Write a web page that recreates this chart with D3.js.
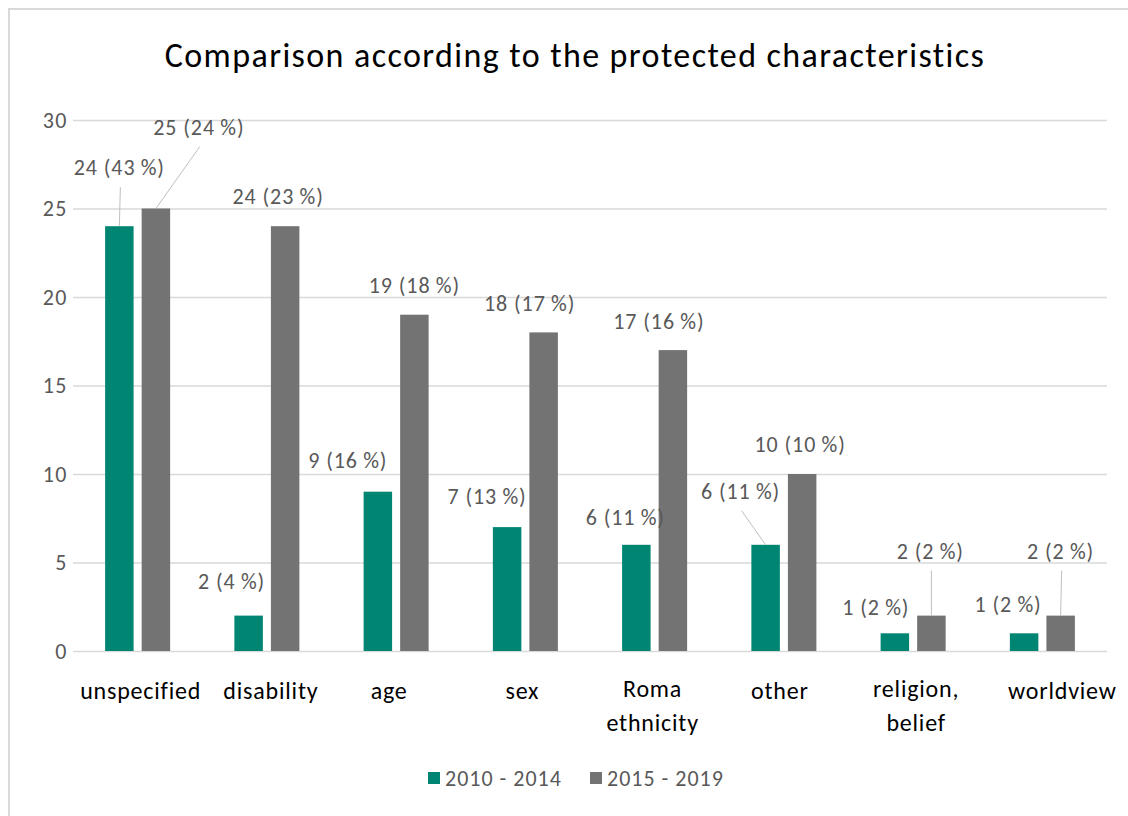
<!DOCTYPE html>
<html>
<head>
<meta charset="utf-8">
<script src="https://cdn.jsdelivr.net/npm/d3@7"></script>
<style>
  html, body { margin: 0; padding: 0; background: #fff; }
  svg { display: block; font-family: Calibri, Carlito, Lato, sans-serif; }
</style>
</head>
<body>
<svg id="chart" width="1128" height="816"></svg>
<script>
// Complaints by protected characteristic, two five-year periods
const categories = [
  ["unspecified"], ["disability"], ["age"], ["sex"],
  ["Roma", "ethnicity"], ["other"], ["religion,", "belief"], ["worldview"]
];
const seriesNames = ["2010 - 2014", "2015 - 2019"];
const counts2010 = [24, 2, 9, 7, 6, 6, 1, 1];
const share2010  = [43, 4, 16, 13, 11, 11, 2, 2];
const counts2015 = [25, 24, 19, 18, 17, 10, 2, 2];
const share2015  = [24, 23, 18, 17, 16, 10, 2, 2];
const yTicks = [0, 5, 10, 15, 20, 25, 30];

// Label placement relative to the top-centre of each bar: [dx, dy, leader]
const labelPlace2010 = [[0, -51, 1], [-17, -27, 0], [-30, -24, 0], [-20, -23, 0],
                        [-11, -20, 0], [-25, -46, 1], [-19, -18, 0], [-16, -21, 0]];
const labelPlace2015 = [[43, -74, 1], [-7, -22, 0], [0, -22, 0], [-14, -21, 0],
                        [-14, -21, 0], [-2, -22, 0], [-1, -57, 1], [0, -57, 1]];
// Horizontal nudge of each category label from its band centre
const categoryNudge = [3, 4, -7, -3, -2, -4, 3, 20];

const colors = ["#008573", "#737373"];
const width = 1128, height = 816;
const margin = { left: 73, right: 21, top: 120, bottom: 165 };

const svg = d3.select("#chart");

// outer frame
svg.append("rect")
  .attr("x", 9).attr("y", 9)
  .attr("width", width + 10).attr("height", height + 10)
  .attr("fill", "#fff").attr("stroke", "#d9d9d9").attr("stroke-width", 2);

// title
svg.append("text")
  .attr("x", 575).attr("y", 67)
  .attr("text-anchor", "middle")
  .attr("font-size", 34).attr("letter-spacing", 1.4).attr("fill", "#000")
  .text("Comparison according to the protected characteristics");

const x0 = d3.scaleBand()
  .domain(d3.range(categories.length))
  .range([margin.left, width - margin.right])
  .paddingInner(0.497).paddingOuter(0.2485);

const x1 = d3.scaleBand()
  .domain([0, 1])
  .range([0, x0.bandwidth()])
  .paddingInner(0.22);

const y = d3.scaleLinear()
  .domain([0, 30])
  .range([height - margin.bottom, margin.top]);

// gridlines + y labels
const yAxis = d3.axisLeft(y)
  .tickValues(yTicks)
  .tickSize(-(width - margin.left - margin.right))
  .tickPadding(6);

const gy = svg.append("g")
  .attr("transform", `translate(${margin.left},0)`)
  .call(yAxis);
gy.select(".domain").remove();
gy.selectAll(".tick line").attr("stroke", "#d9d9d9").attr("stroke-width", 1.3);
gy.selectAll(".tick text")
  .attr("x", -5)
  .attr("font-size", 22).attr("letter-spacing", 1.5).attr("fill", "#595959")
  .attr("font-family", "Calibri, Carlito, Lato, sans-serif");

// bars
const series = [
  { counts: counts2010, shares: share2010, place: labelPlace2010 },
  { counts: counts2015, shares: share2015, place: labelPlace2015 }
];

series.forEach((s, si) => {
  const g = svg.append("g");
  g.selectAll("rect")
    .data(s.counts)
    .join("rect")
    .attr("x", (d, i) => x0(i) + x1(si))
    .attr("y", d => y(d))
    .attr("width", x1.bandwidth())
    .attr("height", d => y(0) - y(d))
    .attr("fill", colors[si]);
});

// data labels with leader lines where moved away from the bar
series.forEach((s, si) => {
  const g = svg.append("g");
  s.counts.forEach((v, i) => {
    const bx = x0(i) + x1(si) + x1.bandwidth() / 2;
    const by = y(v);
    const [dx, dy, leader] = s.place[i];
    const lx = bx + dx, ly = by + dy;
    if (leader) {
      g.append("line")
        .attr("x1", lx + 1).attr("y1", ly + 12)
        .attr("x2", bx).attr("y2", by)
        .attr("stroke", "#bfbfbf").attr("stroke-width", 1);
    }
    g.append("text")
      .attr("x", lx).attr("y", ly)
      .attr("text-anchor", "middle")
      .attr("font-size", 22).attr("letter-spacing", 0.9).attr("fill", "#595959")
      .text(`${v} (${s.shares[i]}\u2009%)`);
  });
});

// category labels
const gx = svg.append("g");
categories.forEach((lines, i) => {
  const cx = x0(i) + x0.bandwidth() / 2 + categoryNudge[i];
  const t = gx.append("text")
    .attr("text-anchor", "middle")
    .attr("font-size", 24).attr("letter-spacing", 0.8).attr("fill", "#000");
  const baseY = lines.length > 1 ? 697 : 699;
  lines.forEach((ln, k) => {
    t.append("tspan").attr("x", cx).attr("y", baseY + k * 34).text(ln);
  });
});

// legend
const legend = svg.append("g");
const legendX = [428, 590];
seriesNames.forEach((name, i) => {
  legend.append("rect")
    .attr("x", legendX[i]).attr("y", 772)
    .attr("width", 12).attr("height", 12)
    .attr("fill", colors[i]);
  legend.append("text")
    .attr("x", legendX[i] + 17).attr("y", 786)
    .attr("font-size", 22).attr("letter-spacing", 1).attr("fill", "#595959")
    .text(name);
});
</script>
</body>
</html>
